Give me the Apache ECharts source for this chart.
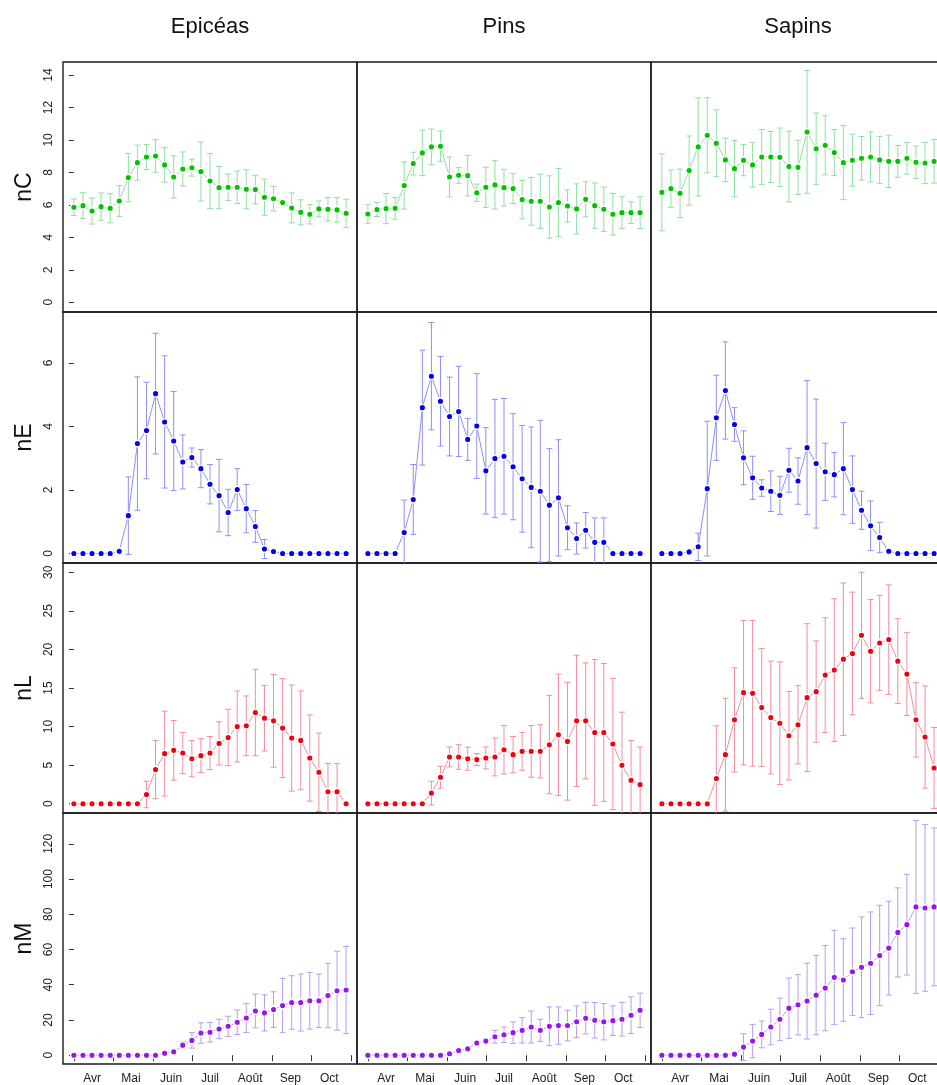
<!DOCTYPE html>
<html>
<head>
<meta charset="utf-8">
<script src="https://cdn.jsdelivr.net/npm/echarts@6/dist/echarts.min.js"></script>
<style>
  html, body { margin: 0; padding: 0; background: #fff; }
  #chart { width: 937px; height: 1085px; }
</style>
</head>
<body>
<div id="chart"></div>
<script>
// Weekly sampling dates, as days counted from 1 April
const sampleDay = [0, 7, 14, 21, 28, 35, 42, 49, 56, 63, 70, 77, 84, 91, 98, 105,
  112, 119, 126, 133, 140, 147, 154, 161, 168, 175, 182, 189, 196, 203, 210];
// First day of each month (days from 1 April), the 15th of each month, and month names
const monthStart = [0, 30, 61, 91, 122, 153, 183, 214];
const monthMid = [14, 44, 75, 105, 136, 167, 197];
const monthNames = ['Avr', 'Mai', 'Juin', 'Juil', 'Août', 'Sep', 'Oct'];

const species = ['Epicéas', 'Pins', 'Sapins'];
const variables = ['nC', 'nE', 'nL', 'nM'];

// Y tick values per variable
const ticksC = [0, 2, 4, 6, 8, 10, 12, 14];
const ticksE = [0, 2, 4, 6];
const ticksL = [0, 5, 10, 15, 20, 25, 30];
const ticksM = [0, 20, 40, 60, 80, 100, 120];

// nC : mean and standard deviation per week
const nC_epiceas = [5.85, 5.95, 5.62, 5.89, 5.79, 6.24, 7.68, 8.60, 8.95, 9.01, 8.46, 7.72, 8.21, 8.29, 8.05, 7.47,
  7.06, 7.08, 7.08, 6.96, 6.94, 6.47, 6.38, 6.14, 5.81, 5.54, 5.42, 5.75, 5.73, 5.69, 5.48];
const nC_epiceas_sd = [0.51, 0.80, 0.80, 0.84, 0.90, 0.95, 1.49, 1.08, 0.77, 1.00, 1.06, 1.30, 1.05, 0.52, 1.82, 1.70,
  1.30, 0.82, 1.00, 1.20, 0.88, 1.11, 0.76, 0.15, 0.92, 0.77, 0.60, 0.49, 0.72, 0.75, 0.87];
const nC_pins = [5.44, 5.71, 5.77, 5.79, 7.19, 8.54, 9.20, 9.57, 9.61, 7.72, 7.82, 7.80, 6.75, 7.08, 7.23, 7.06,
  7.00, 6.32, 6.22, 6.22, 5.87, 6.14, 5.93, 5.75, 6.34, 5.95, 5.73, 5.42, 5.52, 5.52, 5.52];
const nC_pins_sd = [0.57, 0.43, 0.93, 0.67, 1.45, 0.70, 1.40, 1.10, 0.93, 1.23, 0.49, 1.25, 0.53, 1.24, 1.49, 1.13,
  0.92, 1.18, 1.47, 1.67, 1.92, 2.10, 0.99, 1.54, 1.08, 1.40, 1.37, 1.28, 0.98, 0.67, 0.98];
const nC_sapins = [6.77, 7.00, 6.71, 8.11, 9.57, 10.29, 9.79, 8.77, 8.23, 8.75, 8.46, 8.95, 8.95, 8.93, 8.36, 8.31,
  10.49, 9.46, 9.67, 9.22, 8.60, 8.75, 8.87, 8.95, 8.77, 8.68, 8.68, 8.87, 8.62, 8.58, 8.68];
const nC_sapins_sd = [2.37, 1.15, 1.49, 2.13, 3.02, 2.31, 2.06, 1.34, 1.73, 0.96, 1.37, 1.69, 1.57, 1.80, 2.18, 1.67,
  3.78, 2.20, 1.82, 1.42, 2.28, 1.60, 1.34, 1.54, 1.45, 1.61, 0.98, 0.97, 1.00, 1.27, 1.34];

// nE
const nE_epiceas = [0, 0, 0, 0, 0, 0.07, 1.19, 3.46, 3.87, 5.03, 4.14, 3.54, 2.88, 3.02, 2.67, 2.18,
  1.82, 1.29, 2.01, 1.41, 0.85, 0.14, 0.06, 0, 0, 0, 0, 0, 0, 0, 0];
const nE_epiceas_sd = [0, 0, 0, 0, 0, 0.05, 1.22, 2.10, 1.52, 1.90, 2.08, 1.56, 0.85, 0.30, 0.60, 0.62,
  1.14, 0.73, 0.66, 0.76, 0.50, 0.30, 0.05, 0, 0, 0, 0, 0, 0, 0, 0];
const nE_pins = [0, 0, 0, 0, 0.66, 1.70, 4.59, 5.58, 4.79, 4.31, 4.47, 3.59, 4.01, 2.60, 2.99, 3.06,
  2.73, 2.35, 2.08, 1.96, 1.52, 1.75, 0.81, 0.47, 0.73, 0.35, 0.35, 0, 0, 0, 0];
const nE_pins_sd = [0, 0, 0, 0, 1.02, 1.10, 1.81, 1.69, 1.41, 1.24, 1.42, 0.66, 1.65, 1.36, 1.86, 1.82,
  1.67, 1.68, 1.90, 2.23, 1.78, 1.83, 0.69, 0.49, 0.56, 0.77, 0.77, 0, 0, 0, 0];
const nE_sapins = [0, 0, 0, 0.05, 0.21, 2.04, 4.27, 5.13, 4.06, 3.01, 2.38, 2.06, 1.96, 1.83, 2.62, 2.28,
  3.33, 2.83, 2.57, 2.48, 2.67, 2.01, 1.36, 0.87, 0.50, 0.07, 0, 0, 0, 0, 0];
const nE_sapins_sd = [0, 0, 0, 0.05, 0.43, 2.12, 1.34, 1.53, 0.53, 0.85, 0.68, 0.26, 0.64, 0.60, 0.69, 0.73,
  2.11, 2.03, 0.90, 0.70, 1.45, 1.06, 0.60, 0.78, 0.48, 0, 0, 0, 0, 0, 0];

// nL
const nL_epiceas = [0, 0, 0, 0, 0, 0, 0, 0, 1.20, 4.43, 6.49, 6.92, 6.57, 5.84, 6.23, 6.57,
  7.82, 8.59, 10.01, 10.10, 11.82, 11.09, 10.74, 9.80, 8.51, 8.21, 5.93, 4.08, 1.55, 1.55, 0];
const nL_epiceas_sd = [0, 0, 0, 0, 0, 0, 0, 0, 1.72, 3.78, 5.50, 3.87, 2.67, 2.35, 2.20, 2.15,
  2.80, 3.65, 4.60, 3.87, 5.60, 4.25, 6.00, 6.40, 6.87, 6.40, 5.59, 5.07, 3.65, 3.65, 0];
const nL_pins = [0, 0, 0, 0, 0, 0, 0, 1.38, 3.44, 6.06, 6.06, 5.84, 5.72, 5.93, 6.06, 7.00,
  6.36, 6.79, 6.79, 6.79, 7.65, 8.94, 8.08, 10.74, 10.74, 9.24, 9.24, 7.74, 4.98, 3.05, 2.49];
const nL_pins_sd = [0, 0, 0, 0, 0, 0, 0, 1.54, 1.42, 1.29, 1.59, 1.50, 0.77, 1.42, 2.45, 3.14,
  2.36, 2.45, 3.35, 3.44, 6.36, 7.86, 7.61, 8.51, 7.52, 9.45, 8.94, 8.50, 6.88, 5.16, 4.86];
const nL_sapins = [0, 0, 0, 0, 0, 0, 3.27, 6.36, 10.87, 14.40, 14.31, 12.46, 11.17, 10.44, 8.81, 10.23,
  13.75, 14.53, 16.67, 17.32, 18.74, 19.47, 21.83, 19.77, 20.84, 21.27, 18.48, 16.80, 10.87, 8.64, 4.64];
const nL_sapins_sd = [0, 0, 0, 0, 0, 0, 6.83, 7.31, 6.75, 9.36, 9.45, 7.65, 7.31, 7.95, 5.72, 5.07,
  9.58, 6.57, 7.44, 9.24, 9.88, 7.95, 8.17, 6.70, 6.15, 7.09, 5.50, 5.37, 4.82, 6.62, 5.24];

// nM
const nM_epiceas = [0, 0, 0, 0, 0, 0, 0, 0, 0, 0, 1.1, 1.9, 5.7, 8.4, 12.6, 13.0,
  14.9, 16.4, 18.7, 21.1, 25.1, 24.0, 25.9, 28.2, 29.9, 29.9, 30.9, 30.9, 33.9, 36.6, 37.0];
const nM_epiceas_sd = [0, 0, 0, 0, 0, 0, 0, 0, 0, 0, 0.5, 1.0, 2.0, 4.4, 5.8, 5.5,
  5.5, 5.7, 7.0, 8.2, 9.6, 10.3, 10.1, 15.4, 15.2, 16.2, 16.1, 15.2, 18.3, 22.4, 24.7];
const nM_pins = [0, 0, 0, 0, 0, 0, 0, 0, 0, 0.8, 2.7, 3.6, 6.9, 8.0, 10.5, 11.6,
  12.8, 14.1, 16.0, 14.1, 16.4, 16.8, 16.8, 19.0, 21.0, 19.8, 19.0, 19.6, 20.4, 22.7, 25.5];
const nM_pins_sd = [0, 0, 0, 0, 0, 0, 0, 0, 0, 0, 0.3, 0.5, 0.8, 1.0, 3.6, 4.4,
  6.1, 7.2, 9.1, 6.3, 11.0, 10.6, 8.7, 9.0, 8.9, 10.1, 10.3, 8.4, 9.5, 10.4, 9.7];
const nM_sapins = [0, 0, 0, 0, 0, 0, 0, 0, 0.6, 4.6, 8.0, 11.8, 16.0, 20.4, 26.7, 28.6,
  30.7, 34.1, 38.1, 44.2, 42.7, 47.4, 49.9, 52.2, 56.6, 60.8, 69.7, 74.1, 84.2, 83.6, 84.2];
const nM_sapins_sd = [0, 0, 0, 0, 0, 0, 0, 0, 1.0, 7.6, 9.5, 7.6, 10.1, 12.0, 17.1, 17.1,
  21.5, 22.5, 24.2, 26.7, 23.4, 24.8, 28.6, 29.1, 28.5, 26.6, 25.3, 28.6, 49.1, 47.3, 44.8];

// Panel table: rows = variables, columns = species
const rows = [
  { name: 'nC', ticks: ticksC, min: -0.6, max: 14.8, point: '#00c400', light: '#8fe0a2',
    means: [nC_epiceas, nC_pins, nC_sapins], sds: [nC_epiceas_sd, nC_pins_sd, nC_sapins_sd] },
  { name: 'nE', ticks: ticksE, min: -0.3, max: 7.6, point: '#0000f0', light: '#8f8ff6',
    means: [nE_epiceas, nE_pins, nE_sapins], sds: [nE_epiceas_sd, nE_pins_sd, nE_sapins_sd] },
  { name: 'nL', ticks: ticksL, min: -1.2, max: 31.2, point: '#f00010', light: '#f58c9c',
    means: [nL_epiceas, nL_pins, nL_sapins], sds: [nL_epiceas_sd, nL_pins_sd, nL_sapins_sd] },
  { name: 'nM', ticks: ticksM, min: -5, max: 137.5, point: '#9a14ee', light: '#b89cf2',
    means: [nM_epiceas, nM_pins, nM_sapins], sds: [nM_epiceas_sd, nM_pins_sd, nM_sapins_sd] }
];

// Layout of the panel boxes (the third column runs past the right edge)
const colLeft = [63, 357, 651];
const panelW = 294;
const rowTop = [62, 312, 563, 813];
const rowH = [250, 251, 250, 251];
const FONT = '"Liberation Sans", Arial, Helvetica, sans-serif';

const grids = [], xAxes = [], yAxes = [], series = [];

rows.forEach((row, r) => {
  species.forEach((sp, c) => {
    const idx = r * 3 + c;
    const lastRow = r === rows.length - 1;
    const firstCol = c === 0;
    grids.push({
      left: colLeft[c], top: rowTop[r], width: panelW, height: rowH[r],
      show: true, borderColor: '#1a1a1a', borderWidth: 1.4, backgroundColor: 'transparent',
      containLabel: false, outerBoundsMode: 'none'
    });
    xAxes.push({
      type: 'value', gridIndex: idx, min: -8.4, max: 218.4,
      axisLine: { show: false },
      splitLine: { show: false },
      axisTick: {
        show: lastRow, customValues: monthStart, length: 6, inside: false,
        lineStyle: { color: '#333', width: 1 }
      },
      axisLabel: {
        show: lastRow, customValues: monthMid, margin: 9,
        fontFamily: FONT, fontSize: 12, color: '#222',
        formatter: v => {
          const k = monthMid.indexOf(v);
          return k >= 0 ? monthNames[k] : '';
        }
      }
    });
    yAxes.push({
      type: 'value', gridIndex: idx, min: row.min, max: row.max,
      axisLine: { show: false },
      splitLine: { show: false },
      axisTick: {
        show: firstCol, customValues: row.ticks, length: 5, inside: false,
        lineStyle: { color: '#333', width: 1 }
      },
      axisLabel: {
        show: firstCol, customValues: row.ticks, rotate: 90, margin: 8,
        fontFamily: FONT, fontSize: 12, color: '#222'
      }
    });

    const means = row.means[c];
    const sds = row.sds[c];
    const barData = sampleDay.map((d, i) => [d, means[i], sds[i]]);
    const light = row.light;

    // Error bars: mean ± sd with short caps
    series.push({
      type: 'custom', xAxisIndex: idx, yAxisIndex: idx, clip: true, z: 2,
      silent: true,
      data: barData,
      renderItem: (params, api) => {
        const x = api.value(0), m = api.value(1), s = api.value(2);
        if (!s) return null;
        const top = api.coord([x, m + s]);
        const bot = api.coord([x, m - s]);
        const hw = 3;
        const style = { stroke: light, lineWidth: 1, fill: null };
        return {
          type: 'group',
          children: [
            { type: 'line', shape: { x1: top[0], y1: top[1], x2: bot[0], y2: bot[1] }, style },
            { type: 'line', shape: { x1: top[0] - hw, y1: top[1], x2: top[0] + hw, y2: top[1] }, style },
            { type: 'line', shape: { x1: bot[0] - hw, y1: bot[1], x2: bot[0] + hw, y2: bot[1] }, style }
          ]
        };
      }
    });

    // Mean values: light connecting line with solid dots
    series.push({
      type: 'line', xAxisIndex: idx, yAxisIndex: idx, z: 3,
      data: sampleDay.map((d, i) => [d, means[i]]),
      symbol: 'circle', symbolSize: 6.5, showSymbol: true,
      itemStyle: { color: row.point, borderColor: '#ffffff', borderWidth: 1.4 },
      lineStyle: { color: light, width: 1 },
      emphasis: { disabled: true },
      silent: true
    });
  });
});

// Column titles and row names
const graphics = [];
species.forEach((sp, c) => {
  graphics.push({
    type: 'text', x: colLeft[c] + panelW / 2, y: 27,
    style: { text: sp, font: '22px ' + FONT, fill: '#111', textAlign: 'center', textVerticalAlign: 'middle' }
  });
});
rows.forEach((row, r) => {
  graphics.push({
    type: 'text', x: 25, y: rowTop[r] + rowH[r] / 2, rotation: Math.PI / 2,
    style: { text: row.name, font: '23px ' + FONT, fill: '#111', textAlign: 'center', textVerticalAlign: 'middle' }
  });
});

const chart = echarts.init(document.getElementById('chart'), null, { renderer: 'canvas' });
chart.setOption({
  backgroundColor: '#ffffff',
  animation: false,
  tooltip: { show: false },
  grid: grids,
  xAxis: xAxes,
  yAxis: yAxes,
  series: series,
  graphic: graphics
});
</script>
</body>
</html>
